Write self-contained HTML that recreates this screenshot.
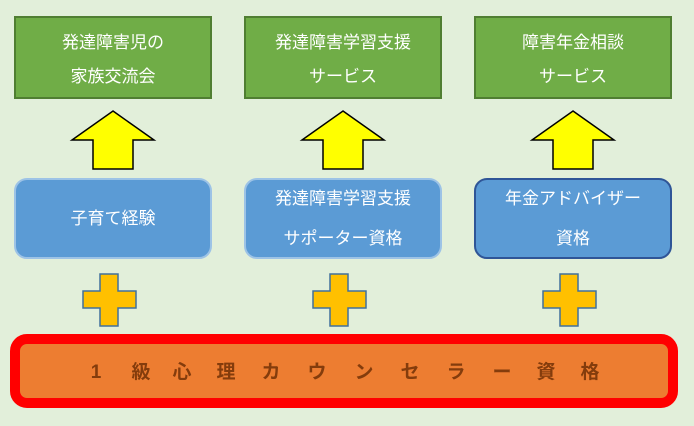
<!DOCTYPE html>
<html><head><meta charset="utf-8"><style>
html,body{margin:0;padding:0;background:#e2efda;}
svg{display:block;}
text{font-family:"Liberation Sans","Noto Sans CJK JP",sans-serif;}
</style></head><body>
<svg width="694" height="426" viewBox="0 0 694 426" xmlns="http://www.w3.org/2000/svg">
<rect width="694" height="426" fill="#e2efda"/>
<g fill="#70ad47" stroke="#507e32" stroke-width="2">
<rect x="15" y="17" width="196" height="81"/>
<rect x="245" y="17" width="196" height="81"/>
<rect x="475" y="17" width="196" height="81"/>
</g>
<g fill="#fff" font-size="17" text-anchor="middle">
<text x="113" y="48">発達障害児の</text><text x="113" y="82">家族交流会</text>
<text x="343" y="48">発達障害学習支援</text><text x="343" y="82">サービス</text>
<text x="573" y="48">障害年金相談</text><text x="573" y="82">サービス</text>
</g>
<g fill="#ffff00" stroke="#000" stroke-width="1.5">
<polygon points="113,111 154,140 133,140 133,169 93,169 93,140 72,140"/>
<polygon points="343,111 384,140 363,140 363,169 323,169 323,140 302,140"/>
<polygon points="573,111 614,140 593,140 593,169 553,169 553,140 532,140"/>
</g>
<rect x="15" y="179" width="196" height="79" rx="12" fill="#5b9bd5" stroke="#9dc3e6" stroke-width="2"/>
<rect x="245" y="179" width="196" height="79" rx="12" fill="#5b9bd5" stroke="#9dc3e6" stroke-width="2"/>
<rect x="475" y="179" width="196" height="79" rx="12" fill="#5b9bd5" stroke="#2f5597" stroke-width="2"/>
<g fill="#fff" font-size="17" text-anchor="middle">
<text x="113" y="224">子育て経験</text>
<text x="343" y="204">発達障害学習支援</text><text x="343" y="244">サポーター資格</text>
<text x="573" y="204">年金アドバイザー</text><text x="573" y="244">資格</text>
</g>
<g fill="#ffc000" stroke="#41719c" stroke-width="1.5">
<polygon points="100,274 118,274 118,291 136,291 136,308 118,308 118,326 100,326 100,308 83,308 83,291 100,291"/>
<polygon points="330,274 348,274 348,291 366,291 366,308 348,308 348,326 330,326 330,308 313,308 313,291 330,291"/>
<polygon points="560,274 578,274 578,291 596,291 596,308 578,308 578,326 560,326 560,308 543,308 543,291 560,291"/>
</g>
<rect x="15" y="339" width="658" height="64" rx="12" fill="#ed7d31" stroke="#ff0000" stroke-width="10"/>
<g fill="#843c0c" font-size="19" font-weight="bold" text-anchor="middle">
<text x="96" y="378">1</text><text x="141" y="378">級</text><text x="182" y="378">心</text><text x="226" y="378">理</text>
<text x="271" y="378">カ</text><text x="317" y="378">ウ</text><text x="364" y="378">ン</text><text x="410" y="378">セ</text>
<text x="456" y="378">ラ</text><text x="502" y="378">ー</text><text x="546" y="378">資</text><text x="590" y="378">格</text>
</g>
</svg>
</body></html>
